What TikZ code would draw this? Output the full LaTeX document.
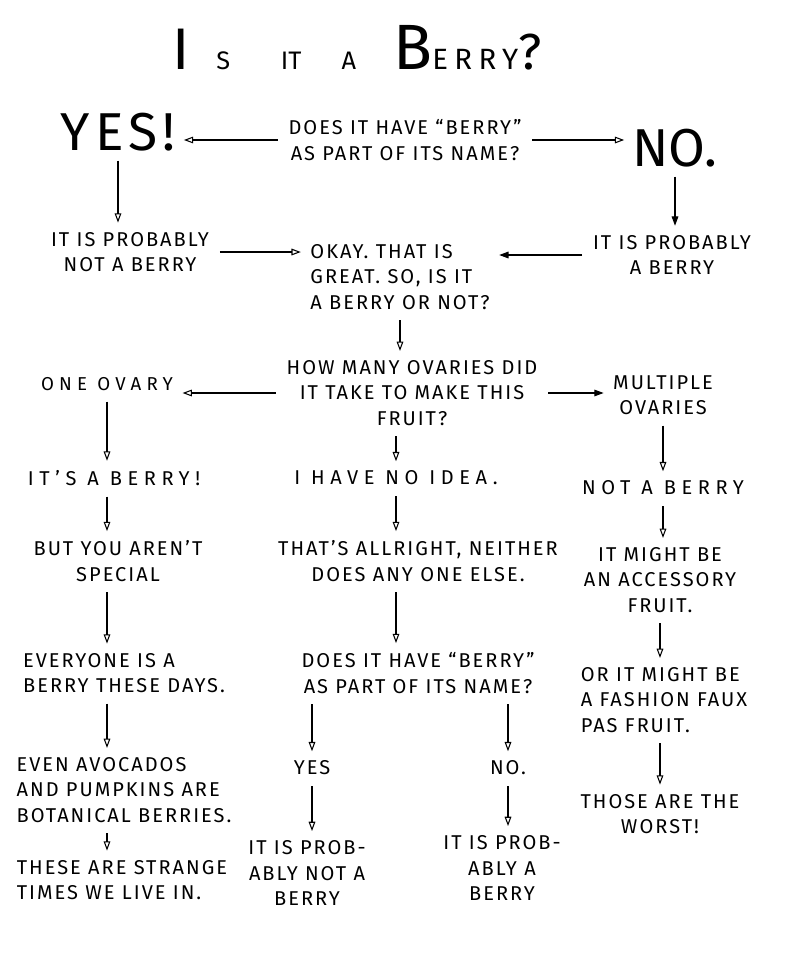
\documentclass[tikz,border=0pt]{standalone}
\usepackage{fontspec}
\setmainfont{Fira Sans}
\newfontfamily\hand{Fira Sans}[LetterSpace=10]
\newfontfamily\wide{Fira Sans}[LetterSpace=28]
\usetikzlibrary{arrows.meta}
\begin{document}
\begin{tikzpicture}[x=0.75pt,y=-0.75pt,
    txt/.style={font=\hand\fontsize{15}{19}\selectfont,align=center,inner sep=4pt},
    ltxt/.style={txt,align=left},
    wtxt/.style={txt,font=\wide\fontsize{15}{19}\selectfont},
    big/.style={font=\hand\fontsize{40}{40}\selectfont,inner sep=3pt},
    flow/.style={-{Triangle[open,length=7pt,width=5pt]},line width=0.8pt,shorten <=4pt,shorten >=3pt},
    flowfill/.style={flow,-{Triangle[length=7pt,width=5pt]}}]
  \useasboundingbox (0,0) rectangle (800,961);
  \node (title) at (357,48) {{\fontsize{44}{44}\selectfont I}\hspace{20pt}{\fontsize{19}{19}\selectfont S\hspace{38pt}IT\hspace{30pt}A}\hspace{28pt}{\fontsize{48}{48}\selectfont B}{\fontsize{22}{22}\selectfont\addfontfeatures{LetterSpace=22}ERRY}{\fontsize{38}{38}\selectfont ?}};
  \node[txt] (q1) at (405,140) {DOES IT HAVE “BERRY”\\AS PART OF ITS NAME?};
  \node[big] (yes) at (118,132) {YES!};
  \node[big,font=\fontsize{40}{40}\selectfont] (no) at (675,148) {NO.};
  \node[txt] (notb1) at (130,252) {IT IS PROBABLY\\NOT A BERRY};
  \node[txt] (prob1) at (672,255) {IT IS PROBABLY\\A BERRY};
  \node[ltxt] (okay) at (400,277) {OKAY. THAT IS\\GREAT. SO, IS IT\\A BERRY OR NOT?};
  \node[txt] (ovar) at (412,393) {HOW MANY OVARIES DID\\IT TAKE TO MAKE THIS\\FRUIT?};
  \node[txt,font=\wide\fontsize{14}{19}\selectfont] (one) at (107,384) {ONE OVARY};
  \node[txt] (mult) at (663,395) {MULTIPLE\\OVARIES};
  \node[wtxt] (berry) at (114,478) {IT’S A BERRY!};
  \node[wtxt] (idea) at (396,478) {I HAVE NO IDEA.};
  \node[wtxt] (notb2) at (663,488) {NOT A BERRY};
  \node[txt] (special) at (118,561) {BUT YOU AREN’T\\SPECIAL};
  \node[txt] (allright) at (418,561) {THAT’S ALLRIGHT, NEITHER\\DOES ANY ONE ELSE.};
  \node[txt] (access) at (660,580) {IT MIGHT BE\\AN ACCESSORY\\FRUIT.};
  \node[ltxt] (everyone) at (124,673) {EVERYONE IS A\\BERRY THESE DAYS.};
  \node[txt] (does2) at (418,673) {DOES IT HAVE “BERRY”\\AS PART OF ITS NAME?};
  \node[ltxt] (fashion) at (664,700) {OR IT MIGHT BE\\A FASHION FAUX\\PAS FRUIT.};
  \node[txt] (yes2) at (312,768) {YES};
  \node[txt] (no2) at (508,768) {NO.};
  \node[ltxt] (avocado) at (124,790) {EVEN AVOCADOS\\AND PUMPKINS ARE\\BOTANICAL BERRIES.};
  \node[txt] (worst) at (660,814) {THOSE ARE THE\\WORST!};
  \node[txt] (probnot) at (307,873) {IT IS PROB-\\ABLY NOT A\\BERRY};
  \node[txt] (probyes) at (502,868) {IT IS PROB-\\ABLY A\\BERRY};
  \node[ltxt] (strange) at (122,880) {THESE ARE STRANGE\\TIMES WE LIVE IN.};
  \draw[flow] (q1.west) -- (q1.west -| yes.east);
  \draw[flow] (q1.east) -- (q1.east -| no.west);
  \draw[flow] (yes.south) -- (yes.south |- notb1.north);
  \draw[flowfill] (no.south) -- (no.south |- prob1.north);
  \draw[flow] (notb1.east) -- (notb1.east -| okay.west);
  \draw[flowfill] (prob1.west) -- (prob1.west -| okay.east);
  \draw[flow] (okay.south) -- (okay.south |- ovar.north);
  \draw[flow] (ovar.west) -- (ovar.west -| one.east);
  \draw[flowfill] (ovar.east) -- (ovar.east -| mult.west);
  \draw[flow] (one.south) -- (one.south |- berry.north);
  \draw[flow] (ovar.south -| idea) -- (idea.north);
  \draw[flow] (mult.south) -- (mult.south |- notb2.north);
  \draw[flow] (berry.south -| one) -- (one |- special.north);
  \draw[flow] (idea.south) -- (idea.south |- allright.north);
  \draw[flow] (notb2.south) -- (notb2.south |- access.north);
  \draw[flow] (special.south -| one) -- (one |- everyone.north);
  \draw[flow] (allright.south -| idea) -- (idea |- does2.north);
  \draw[flow] (access.south) -- (access.south |- fashion.north);
  \draw[flow] (everyone.south -| one) -- (one |- avocado.north);
  \draw[flow] (does2.south -| yes2) -- (yes2.north);
  \draw[flow] (does2.south -| no2) -- (no2.north);
  \draw[flow] (fashion.south -| worst) -- (worst.north);
  \draw[flow] (avocado.south -| one) -- (one |- strange.north);
  \draw[flow] (yes2.south) -- (yes2.south |- probnot.north);
  \draw[flow] (no2.south) -- (no2.south |- probyes.north);
\end{tikzpicture}
\end{document}
